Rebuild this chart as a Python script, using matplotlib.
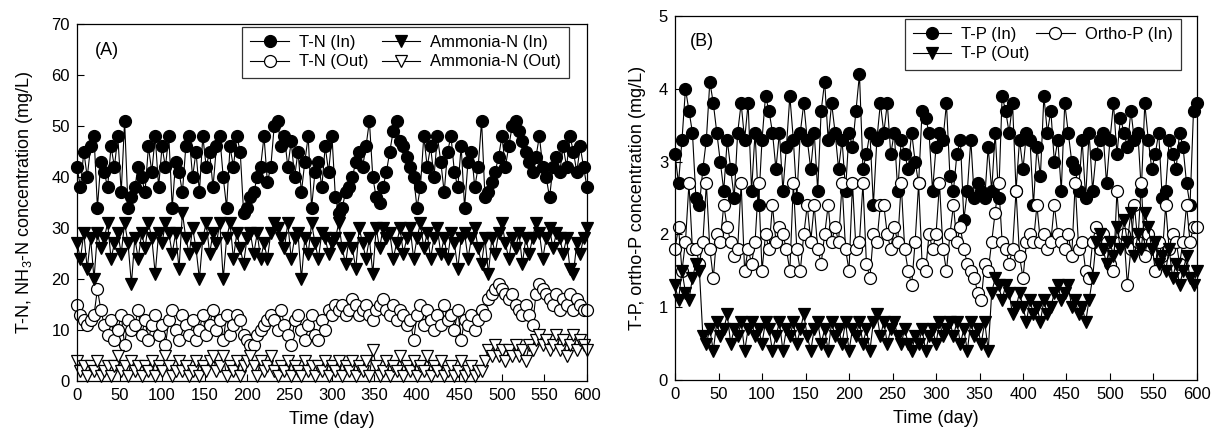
import matplotlib.pyplot as plt
import numpy as np

plt.rcParams['font.family'] = ['Liberation Sans', 'DejaVu Sans']
plt.rcParams['mathtext.fontset'] = 'custom'
plt.rcParams['mathtext.rm'] = 'Liberation Sans'
plt.rcParams['mathtext.it'] = 'Liberation Sans'

# sampling days (every 4 days)
days = np.arange(0, 601, 4)

# panel A: nitrogen (mg/L)
tn_in = [42, 38, 45, 40, 46, 48, 34, 43, 41, 38,
         46, 42, 48, 37, 51, 34, 36, 38, 42, 40,
         37, 46, 41, 48, 38, 46, 42, 48, 34, 43,
         41, 37, 46, 48, 40, 45, 37, 48, 42, 45,
         38, 46, 48, 40, 34, 46, 42, 48, 45, 33,
         34, 36, 37, 40, 42, 48, 39, 42, 50, 51,
         46, 48, 42, 47, 40, 45, 37, 43, 48, 34,
         41, 43, 38, 46, 41, 48, 36, 33, 34, 37,
         38, 40, 43, 45, 42, 46, 51, 40, 36, 35,
         38, 41, 45, 49, 51, 47, 46, 44, 42, 40,
         34, 38, 48, 42, 46, 40, 48, 43, 37, 45,
         48, 41, 38, 46, 34, 43, 45, 38, 42, 51,
         36, 37, 39, 41, 44, 48, 42, 46, 50, 51,
         49, 47, 45, 43, 41, 44, 48, 42, 40, 36,
         42, 44, 41, 46, 42, 48, 45, 41, 46, 42,
         38]
tn_out = [15, 13, 12, 11, 12, 13, 18, 14, 11, 9,
          12, 8, 10, 13, 7, 12, 10, 11, 14, 9,
          12, 8, 11, 13, 9, 11, 7, 12, 14, 10,
          8, 13, 11, 9, 12, 8, 10, 13, 9, 11,
          14, 10, 12, 8, 13, 9, 11, 13, 12, 9,
          8, 7, 7, 9, 10, 11, 12, 13, 12, 10,
          14, 11, 9, 7, 12, 13, 10, 8, 11, 13,
          9, 8, 12, 10, 14, 13, 15, 14, 15, 13,
          14, 16, 15, 13, 14, 15, 13, 12, 14, 15,
          16, 14, 13, 15, 12, 14, 13, 11, 12, 8,
          13, 15, 11, 14, 12, 10, 13, 11, 15, 12,
          13, 10, 14, 8, 12, 11, 13, 10, 12, 14,
          13, 16, 17, 18, 19, 18, 17, 16, 17, 15,
          14, 13, 15, 13, 11, 17, 19, 18, 17, 16,
          15, 17, 14, 16, 15, 17, 14, 16, 15, 14,
          14]
nh_in = [27, 24, 29, 22, 28, 20, 29, 26, 28, 31,
         24, 27, 29, 25, 31, 27, 19, 28, 24, 29,
         26, 31, 28, 21, 29, 27, 31, 29, 25, 29,
         22, 33, 28, 25, 30, 26, 20, 28, 31, 25,
         29, 27, 31, 20, 28, 31, 24, 29, 26, 23,
         28, 29, 25, 29, 24, 27, 24, 29, 31, 30,
         28, 26, 31, 24, 28, 29, 20, 28, 25, 31,
         27, 24, 29, 28, 25, 27, 28, 31, 26, 23,
         28, 26, 22, 30, 27, 24, 28, 21, 30, 26,
         30, 28, 29, 24, 27, 30, 25, 28, 30, 24,
         28, 31, 26, 29, 24, 28, 30, 25, 28, 24,
         29, 27, 22, 28, 29, 24, 28, 30, 26, 23,
         28, 21, 28, 25, 29, 31, 27, 24, 28, 26,
         29, 23, 28, 25, 28, 31, 29, 24, 28, 30,
         26, 29, 28, 25, 28, 22, 21, 27, 25, 28,
         30]
nh_out = [4, 2, 3, 1, 3, 2, 4, 1, 2, 3,
          1, 3, 5, 2, 3, 1, 4, 2, 3, 1,
          3, 2, 4, 1, 3, 2, 5, 3, 1, 2,
          4, 2, 3, 1, 2, 4, 1, 3, 2, 4,
          5, 2, 3, 5, 1, 3, 2, 4, 1, 3,
          4, 5, 3, 1, 4, 2, 3, 5, 2, 1,
          3, 2, 4, 1, 3, 2, 1, 4, 2, 3,
          1, 3, 2, 4, 1, 3, 2, 4, 1, 3,
          2, 4, 1, 3, 2, 4, 1, 6, 3, 1,
          2, 4, 1, 3, 2, 5, 1, 3, 2, 4,
          1, 3, 2, 5, 1, 3, 2, 4, 1, 2,
          3, 1, 2, 4, 1, 2, 3, 1, 2, 2,
          4, 6, 5, 7, 5, 6, 4, 6, 5, 7,
          5, 6, 4, 7, 6, 8, 9, 7, 8, 6,
          7, 9, 6, 8, 5, 7, 9, 6, 8, 7,
          6]

# panel B: phosphorus (mg/L)
tp_in = [3.1, 2.7, 3.3, 4.0, 3.7, 3.4, 2.5, 2.4, 2.9, 3.3,
         4.1, 3.8, 3.4, 3.0, 2.6, 3.3, 2.9, 2.5, 3.4, 3.8,
         3.3, 3.8, 2.6, 3.4, 2.4, 3.3, 3.9, 3.7, 3.4, 2.9,
         3.4, 2.6, 3.2, 3.9, 3.3, 2.5, 3.4, 3.8, 3.3, 2.9,
         3.4, 2.6, 3.7, 4.1, 3.3, 3.8, 3.4, 2.9, 3.3, 2.6,
         3.4, 3.2, 3.7, 4.2, 2.9, 3.1, 3.4, 2.4, 3.3, 3.8,
         3.4, 3.8, 3.1, 3.4, 2.6, 3.3, 3.1, 2.9, 3.4, 3.0,
         2.7, 3.7, 3.6, 3.4, 2.6, 3.2, 3.4, 3.3, 3.8, 2.8,
         2.6, 3.1, 3.3, 2.2, 2.6, 3.3, 2.5, 2.7, 2.6, 2.5,
         3.2, 2.6, 3.4, 2.5, 3.9, 3.7, 3.4, 3.8, 2.6, 3.3,
         2.9, 3.4, 3.3, 2.4, 3.2, 2.8, 3.9, 3.4, 3.7, 3.0,
         3.3, 2.6, 3.8, 3.4, 3.0, 2.9, 2.6, 3.3, 2.5, 3.4,
         2.6, 3.1, 3.3, 3.4, 2.7, 3.3, 3.8, 3.1, 3.6, 3.4,
         3.2, 3.7, 3.3, 3.4, 2.6, 3.8, 3.3, 2.9, 3.1, 3.4,
         2.5, 2.6, 3.3, 3.1, 2.9, 3.4, 3.2, 2.7, 2.4, 3.7,
         3.8]
orthop_in = [1.8, 2.1, 1.5, 1.9, 2.7, 1.8, 1.8, 1.6, 1.9, 2.7,
             1.8, 1.4, 2.0, 1.9, 2.4, 2.1, 1.9, 1.7, 1.8, 2.7,
             1.5, 1.8, 1.6, 1.9, 2.7, 1.5, 2.0, 1.8, 2.4, 1.9,
             2.1, 2.0, 1.8, 1.5, 2.7, 1.8, 1.5, 2.0, 2.4, 1.9,
             2.4, 1.8, 1.6, 2.0, 2.4, 1.9, 2.1, 1.9, 2.7, 1.8,
             1.5, 2.7, 1.8, 1.9, 2.7, 1.6, 1.4, 2.0, 1.9, 2.4,
             2.4, 2.0, 1.8, 2.1, 1.9, 2.7, 1.8, 1.5, 1.3, 1.9,
             2.7, 1.6, 1.5, 2.0, 1.8, 2.0, 2.7, 1.8, 1.5, 2.0,
             2.4, 1.9, 2.1, 1.8, 1.6, 1.5, 1.4, 1.2, 1.1, 1.6,
             1.5, 1.9, 2.3, 2.7, 1.9, 1.8, 1.6, 1.8, 2.6, 1.7,
             1.4, 1.9, 2.0, 1.9, 2.4, 1.9, 2.0, 1.8, 1.9, 2.4,
             2.0, 1.9, 1.8, 2.0, 1.7, 2.7, 1.8, 1.9, 1.5, 1.4,
             1.9, 2.1, 1.8, 2.0, 1.9, 1.6, 1.5, 2.6, 1.9, 2.0,
             1.3, 1.8, 2.4, 1.9, 2.7, 1.7, 2.0, 1.9, 1.5, 1.9,
             1.7, 2.4, 1.8, 2.0, 1.9, 1.6, 1.9, 2.4, 1.9, 2.1,
             2.1]
tp_out = [1.3, 1.1, 1.5, 1.2, 1.1, 1.4, 1.6, 1.5, 0.6, 0.5,
          0.7, 0.4, 0.8, 0.6, 0.7, 0.9, 0.5, 0.7, 0.6, 0.8,
          0.4, 0.7, 0.8, 0.6, 0.7, 0.5, 0.8, 0.7, 0.4, 0.6,
          0.8, 0.4, 0.7, 0.6, 0.8, 0.5, 0.7, 0.9, 0.6, 0.4,
          0.7, 0.8, 0.5, 0.7, 0.4, 0.8, 0.6, 0.7, 0.5, 0.8,
          0.4, 0.7, 0.6, 0.8, 0.5, 0.7, 0.4, 0.8, 0.9, 0.6,
          0.8, 0.5, 0.7, 0.8, 0.6, 0.5, 0.7, 0.5, 0.4, 0.6,
          0.5, 0.7, 0.4, 0.6, 0.7, 0.5, 0.8, 0.6, 0.7, 0.8,
          0.6, 0.8, 0.5, 0.7, 0.4, 0.8, 0.6, 0.7, 0.5, 0.8,
          0.4, 1.2, 1.4, 1.3, 1.1, 1.3, 1.2, 0.9, 1.0, 1.2,
          1.0, 0.8, 1.1, 0.9, 1.0, 0.8, 1.1, 0.9, 1.0, 1.2,
          1.3, 1.1, 1.2, 1.3, 1.0, 1.1, 0.9, 1.0, 0.8, 1.1,
          1.4, 1.9, 2.0, 1.8, 1.6, 1.9, 1.7, 2.1, 1.8, 2.2,
          1.9, 2.3, 1.7, 2.0, 1.8, 2.3, 2.1, 1.8, 1.9, 1.6,
          1.7, 1.5, 1.8, 1.4, 1.6, 1.3, 1.5, 1.7, 1.4, 1.3,
          1.5]

fig = plt.figure(figsize=(12.13, 4.38), dpi=100)
axA = fig.add_axes([0.0635, 0.130, 0.4204, 0.815])
axB = fig.add_axes([0.5565, 0.1324, 0.4303, 0.831])

common = dict(color='black', linewidth=0.8, markeredgecolor='black',
              markeredgewidth=0.9, clip_on=False)
circ = 8.6
tri = 9.2

a1, = axA.plot(days, tn_in, marker='o', markersize=circ, markerfacecolor='black',
               label='T-N (In)', **common)
a2, = axA.plot(days, tn_out, marker='o', markersize=circ, markerfacecolor='white',
               label='T-N (Out)', **common)
a3, = axA.plot(days, nh_in, marker='v', markersize=tri, markerfacecolor='black',
               label='Ammonia-N (In)', **common)
a4, = axA.plot(days, nh_out, marker='v', markersize=tri, markerfacecolor='white',
               label='Ammonia-N (Out)', **common)

b1, = axB.plot(days, tp_in, marker='o', markersize=circ, markerfacecolor='black',
               label='T-P (In)', **common)
b2, = axB.plot(days, orthop_in, marker='o', markersize=circ, markerfacecolor='white',
               label='Ortho-P (In)', **common)
b3, = axB.plot(days, tp_out, marker='v', markersize=tri, markerfacecolor='black',
               label='T-P (Out)', **common)

for ax in (axA, axB):
    ax.set_xlim(0, 600)
    ax.set_xticks(range(0, 601, 50))
    ax.tick_params(direction='in', length=5, width=0.8, labelsize=12, pad=5)
    ax.set_xlabel('Time (day)', fontsize=13, labelpad=6)
    for s in ax.spines.values():
        s.set_linewidth(0.9)

axA.set_ylim(0, 70)
axA.set_yticks(range(0, 71, 10))
axA.set_ylabel('T-N, NH$_3$-N concentration (mg/L)', fontsize=13, labelpad=12)
axA.text(0.035, 0.927, '(A)', transform=axA.transAxes, fontsize=13, va='center')

axB.set_ylim(0, 5)
axB.set_yticks(range(0, 6))
axB.set_ylabel('T-P, ortho-P concentration (mg/L)', fontsize=13, labelpad=9)
axB.text(0.029, 0.929, '(B)', transform=axB.transAxes, fontsize=13, va='center')

leg_kw = dict(ncol=2, fontsize=12, frameon=True, fancybox=False, numpoints=1,
              handlelength=2.3, handletextpad=0.6, columnspacing=0.8,
              labelspacing=0.25, borderpad=0.5, borderaxespad=0)
legA = axA.legend(handles=[a1, a2, a3, a4], loc='upper right',
                  bbox_to_anchor=(0.965, 0.992), **leg_kw)
legB = axB.legend(handles=[b1, b3, b2], loc='upper right',
                  bbox_to_anchor=(0.969, 0.992), columnspacing=0.4,
                  **{k: v for k, v in leg_kw.items() if k != 'columnspacing'})
for leg in (legA, legB):
    leg.get_frame().set_edgecolor('black')
    leg.get_frame().set_linewidth(0.9)

fig.savefig('out.png', dpi=100)
